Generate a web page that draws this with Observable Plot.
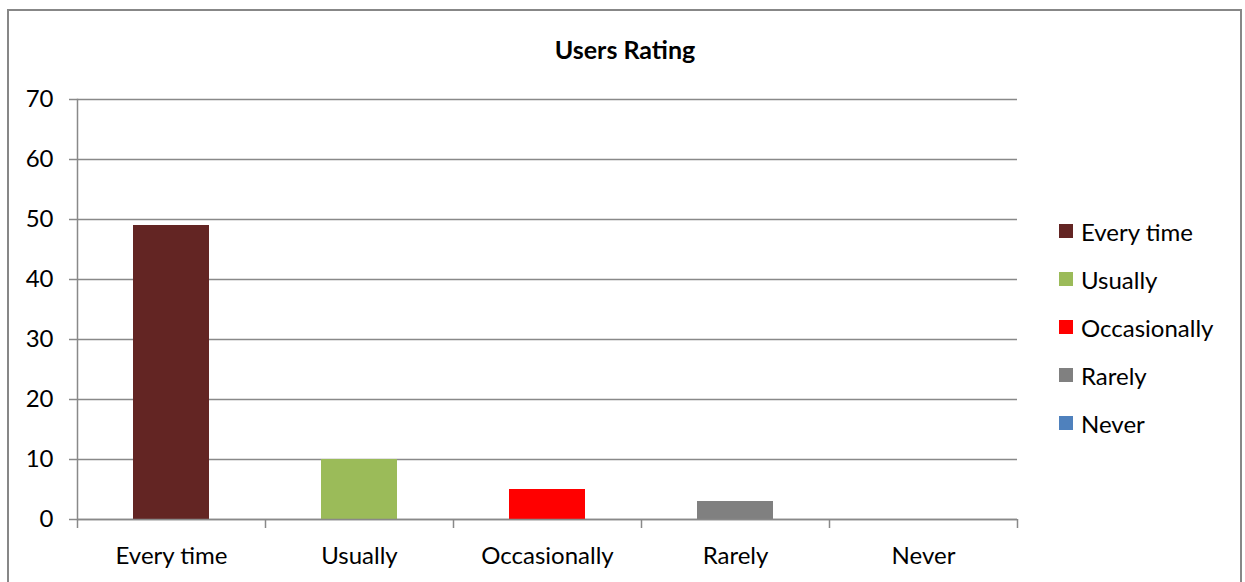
<!DOCTYPE html>
<html><head><meta charset="utf-8">
<script src="https://cdn.jsdelivr.net/npm/d3@7"></script>
<script src="https://cdn.jsdelivr.net/npm/@observablehq/plot@0.6"></script>
<style>
body{margin:0;background:#fff;}
#wrap{position:relative;width:1245px;height:582px;overflow:hidden;font-family:Lato,"Open Sans",sans-serif;color:#000;}
#border{position:absolute;left:7px;top:9px;width:1235px;height:620px;border:2px solid #878787;box-sizing:border-box;}
#title{position:absolute;left:0;width:1250px;top:34px;text-align:center;font-weight:bold;font-size:25px;line-height:30px;}
#chart{position:absolute;left:0;top:0;}
.lrow{position:absolute;left:1059px;height:48px;display:flex;align-items:center;font-size:24px;white-space:nowrap;}
.sw{width:14px;height:14px;margin-right:8px;flex:none;}
</style></head>
<body><div id="wrap"><div id="border"></div><div id="chart"></div><div id="title">Users Rating</div><div id="legend"></div></div>
<script>
const categories = ["Every time", "Usually", "Occasionally", "Rarely", "Never"];
const values = [49, 10, 5, 3, 0];
const colors = ["#632523", "#9BBB59", "#FF0000", "#808080", "#4F81BD"];
const yTicks = [0, 10, 20, 30, 40, 50, 60, 70];

const data = categories.map((c, i) => ({category: c, value: values[i]}));
const W = 1245, H = 582, mL = 77, mR = 228, mT = 99, mB = 63;
const bw = (W - mL - mR) / categories.length;
const barW = 76;
const inset = (bw - barW) / 2;
const gridColor = "#898989";

const chart = Plot.plot({
  width: W, height: H,
  marginLeft: mL, marginRight: mR, marginTop: mT, marginBottom: mB,
  style: {fontFamily: "Lato, 'Open Sans', sans-serif", fontSize: "24px", color: "#000", background: "transparent", overflow: "visible"},
  x: {type: "band", domain: categories, padding: 0, label: null},
  y: {domain: [0, 70], label: null},
  color: {domain: categories, range: colors},
  marks: [
    Plot.gridY(yTicks, {stroke: gridColor, strokeOpacity: 1, strokeWidth: 1.5}),
    Plot.axisY(yTicks, {tickSize: 8, tickPadding: 16, stroke: gridColor, strokeWidth: 1.5, tickFormat: d => d, fill: "#000"}),
    Plot.barY(data, {x: "category", y: "value", fill: "category", insetLeft: inset, insetRight: inset}),
    Plot.ruleX(categories, {x: d => d, y1: 0, y2: 0, dx: -bw / 2, stroke: gridColor, strokeWidth: 1.5, insetBottom: -9}),
    Plot.ruleX(categories.slice(-1), {x: d => d, y1: 0, y2: 0, dx: bw / 2, stroke: gridColor, strokeWidth: 1.5, insetBottom: -9}),
    Plot.frame({anchor: "left", stroke: gridColor, strokeWidth: 1.5}),
    Plot.ruleY([0], {stroke: gridColor, strokeWidth: 1.5}),
    Plot.axisX({tickSize: 0, tickPadding: 27, fill: "#000"})
  ]
});
document.getElementById("chart").appendChild(chart);

const legend = document.getElementById("legend");
categories.forEach((c, i) => {
  const row = document.createElement("div");
  row.className = "lrow";
  row.style.top = (207 + i * 48) + "px";
  const sw = document.createElement("div");
  sw.className = "sw";
  sw.style.background = colors[i];
  const t = document.createElement("span");
  t.textContent = c;
  row.appendChild(sw); row.appendChild(t);
  legend.appendChild(row);
});
</script></body></html>
